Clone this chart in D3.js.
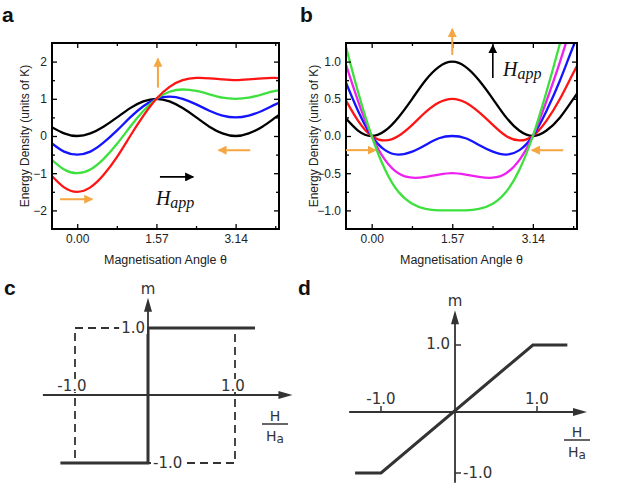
<!DOCTYPE html>
<html>
<head>
<meta charset="utf-8">
<script src="https://cdn.jsdelivr.net/npm/d3@7"></script>
<style>
  body { margin: 0; background: #fff; }
  svg { display: block; font-family: "Liberation Sans", Arial, sans-serif; }
</style>
</head>
<body>
<svg id="fig" width="633" height="491"></svg>
<script>
const theta = [-0.52, -0.26, 0, 0.26, 0.52, 0.79, 1.05, 1.31, 1.57, 1.83, 2.09, 2.36, 2.62, 2.88, 3.14, 3.40, 3.67, 3.93, 4.19];

// panel a: field along the easy axis
const a_h0  = [0.25, 0.07, 0, 0.07, 0.25, 0.5, 0.75, 0.93, 1, 0.93, 0.75, 0.5, 0.25, 0.07, 0, 0.07, 0.25, 0.5, 0.75];
const a_h05 = [-0.18, -0.42, -0.5, -0.42, -0.18, 0.15, 0.5, 0.80, 1, 1.06, 1.0, 0.85, 0.68, 0.55, 0.5, 0.55, 0.68, 0.85, 1.0];
const a_h1  = [-0.62, -0.90, -1, -0.90, -0.62, -0.21, 0.25, 0.67, 1, 1.19, 1.25, 1.21, 1.12, 1.03, 1, 1.03, 1.12, 1.21, 1.25];
const a_h15 = [-1.05, -1.38, -1.5, -1.38, -1.05, -0.56, 0, 0.54, 1, 1.32, 1.5, 1.56, 1.55, 1.52, 1.5, 1.52, 1.55, 1.56, 1.5];

// panel b: field perpendicular to the easy axis
const b_h0  = [0.25, 0.07, 0, 0.07, 0.25, 0.5, 0.75, 0.93, 1, 0.93, 0.75, 0.5, 0.25, 0.07, 0, 0.07, 0.25, 0.5, 0.75];
const b_h05 = [0.5, 0.20, 0, -0.06, 0, 0.15, 0.32, 0.45, 0.5, 0.45, 0.32, 0.15, 0, -0.06, 0, 0.20, 0.5, 0.85, 1.18];
const b_h1  = [0.75, 0.33, 0, -0.19, -0.25, -0.21, -0.12, -0.03, 0, -0.03, -0.12, -0.21, -0.25, -0.19, 0, 0.33, 0.75, 1.21, 1.62];
const b_h15 = [1.0, 0.46, 0, -0.32, -0.5, -0.56, -0.55, -0.52, -0.5, -0.52, -0.55, -0.56, -0.5, -0.32, 0, 0.46, 1.0, 1.56, 2.05];
const b_h2  = [1.25, 0.58, 0, -0.45, -0.75, -0.91, -0.98, -1.0, -1, -1.0, -0.98, -0.91, -0.75, -0.45, 0, 0.58, 1.25, 1.91, 2.48];

const xMajor = [0, 1.57, 3.14];
const xMajorLabels = ["0.00", "1.57", "3.14"];
const xMinor = [0.785, 2.355, 3.925];
const aYMajor = [-2, -1, 0, 1, 2];
const aYMinor = [-1.5, -0.5, 0.5, 1.5];
const bYMajor = [-1.0, -0.5, 0, 0.5, 1.0];
const bYMinor = [-0.75, -0.25, 0.25, 0.75];

// panels c and d: m vs H/Ha
const c_solid = [[-1.2, -1], [0, -1], [0, 1], [1.23, 1]];
const c_dashLeft = [[0, 1], [-1, 1], [-1, -1]];
const c_dashRight = [[0, -1], [1, -1], [1, 1]];
const d_line = [[-1.35, -1], [-1, -1], [0.95, 1], [1.37, 1]];

const svg = d3.select("#fig");
const defs = svg.append("defs");

const orange = "#f5a640";

function marker(id, color) {
  defs.append("marker")
    .attr("id", id)
    .attr("viewBox", "0 0 10 10")
    .attr("refX", 9).attr("refY", 5)
    .attr("markerUnits", "userSpaceOnUse")
    .attr("markerWidth", 9).attr("markerHeight", 9)
    .attr("orient", "auto")
    .append("path")
    .attr("d", "M0,0 L10,5 L0,10 z")
    .attr("fill", color);
}
marker("arrOrange", orange);
marker("arrBlack", "#000");

function energyPanel(opt) {
  const g = svg.append("g");
  const x = d3.scaleLinear().domain([-0.5, 4.0]).range([opt.left, opt.right]);
  const y = d3.scaleLinear().domain(opt.yDomain).range([opt.bottom, opt.top]);

  defs.append("clipPath").attr("id", opt.id + "clip")
    .append("rect")
    .attr("x", opt.left).attr("y", opt.top)
    .attr("width", opt.right - opt.left).attr("height", opt.bottom - opt.top);

  const color = d3.scaleOrdinal().domain(d3.range(opt.series.length)).range(opt.colors);
  const line = d3.line().x((d, i) => x(theta[i])).y(d => y(d)).curve(d3.curveNatural);

  g.append("g").attr("clip-path", `url(#${opt.id}clip)`)
    .selectAll("path")
    .data(opt.series)
    .enter()
    .append("path")
      .attr("d", d => line(d))
      .attr("fill", "none")
      .attr("stroke", (d, i) => color(i))
      .attr("stroke-width", 2.3);

  // inward ticks on all four sides
  const tickStyle = (sel) => {
    sel.select(".domain").remove();
    sel.selectAll("line").attr("stroke", "#000").attr("stroke-width", 1.3);
    sel.selectAll("text").attr("font-size", 12).attr("fill", "#222").attr("font-family", "Liberation Sans, Arial, sans-serif");
  };
  g.append("g").attr("transform", `translate(0,${opt.bottom})`)
    .call(d3.axisBottom(x).tickValues(xMajor).tickFormat((d, i) => xMajorLabels[i]).tickSize(-5).tickPadding(5))
    .call(tickStyle);
  g.append("g").attr("transform", `translate(0,${opt.bottom})`)
    .call(d3.axisBottom(x).tickValues(xMinor).tickFormat("").tickSize(-3))
    .call(tickStyle);
  g.append("g").attr("transform", `translate(0,${opt.top})`)
    .call(d3.axisTop(x).tickValues(xMajor).tickFormat("").tickSize(-5))
    .call(tickStyle);
  g.append("g").attr("transform", `translate(0,${opt.top})`)
    .call(d3.axisTop(x).tickValues(xMinor).tickFormat("").tickSize(-3))
    .call(tickStyle);
  g.append("g").attr("transform", `translate(${opt.left},0)`)
    .call(d3.axisLeft(y).tickValues(opt.yMajor).tickFormat(opt.yFormat).tickSize(-5).tickPadding(5))
    .call(tickStyle);
  g.append("g").attr("transform", `translate(${opt.left},0)`)
    .call(d3.axisLeft(y).tickValues(opt.yMinor).tickFormat("").tickSize(-3))
    .call(tickStyle);
  g.append("g").attr("transform", `translate(${opt.right},0)`)
    .call(d3.axisRight(y).tickValues(opt.yMajor).tickFormat("").tickSize(-5))
    .call(tickStyle);
  g.append("g").attr("transform", `translate(${opt.right},0)`)
    .call(d3.axisRight(y).tickValues(opt.yMinor).tickFormat("").tickSize(-3))
    .call(tickStyle);

  g.append("rect")
    .attr("x", opt.left).attr("y", opt.top)
    .attr("width", opt.right - opt.left).attr("height", opt.bottom - opt.top)
    .attr("fill", "none").attr("stroke", "#000").attr("stroke-width", 2);

  g.append("text")
    .attr("x", (opt.left + opt.right) / 2).attr("y", 264)
    .attr("text-anchor", "middle").attr("font-size", 12.5).attr("fill", "#222")
    .text("Magnetisation Angle θ");

  g.append("text")
    .attr("transform", "rotate(-90)")
    .attr("x", -(opt.top + opt.bottom) / 2).attr("y", opt.yLabelX)
    .attr("text-anchor", "middle").attr("font-size", 12).attr("fill", "#222")
    .text("Energy Density (units of K)");

  opt.arrows.forEach(a => {
    g.append("line")
      .attr("x1", x(a[0])).attr("y1", y(a[1]))
      .attr("x2", x(a[2])).attr("y2", y(a[3]))
      .attr("stroke", a[4] === "k" ? "#000" : orange)
      .attr("stroke-width", a[4] === "k" ? 1.6 : 2)
      .attr("marker-end", a[4] === "k" ? "url(#arrBlack)" : "url(#arrOrange)");
  });

  const h = g.append("text")
    .attr("x", x(opt.happ[0])).attr("y", y(opt.happ[1]))
    .attr("font-family", "Liberation Serif, Times New Roman, serif")
    .attr("font-style", "italic").attr("fill", "#111");
  h.append("tspan").attr("font-size", 20).text("H");
  h.append("tspan").attr("font-size", 16).attr("dy", 3).text("app");

  return g;
}

energyPanel({
  id: "a", left: 52, right: 279, top: 43, bottom: 229,
  yDomain: [-2.5, 2.5], yMajor: aYMajor, yMinor: aYMinor, yFormat: d3.format("d"),
  series: [a_h0, a_h05, a_h1, a_h15],
  colors: ["#000000", "#1414ff", "#3ee03e", "#ff1414"],
  yLabelX: 29,
  arrows: [[1.6, 1.3, 1.6, 2.08, "o"], [-0.34, -1.7, 0.3, -1.7, "o"], [3.43, -0.38, 2.8, -0.38, "o"], [1.64, -1.1, 2.3, -1.1, "k"]],
  happ: [1.56, -1.85]
});

energyPanel({
  id: "b", left: 346, right: 577, top: 43, bottom: 229,
  yDomain: [-1.25, 1.25], yMajor: bYMajor, yMinor: bYMinor, yFormat: d3.format(".1f"),
  series: [b_h0, b_h05, b_h1, b_h15, b_h2],
  colors: ["#000000", "#ff1414", "#1414ff", "#ee22ee", "#3ee03e"],
  yLabelX: 318,
  arrows: [[1.57, 1.09, 1.57, 1.44, "o"], [-0.5, -0.19, 0.08, -0.19, "o"], [3.73, -0.19, 3.12, -0.19, "o"], [2.36, 0.78, 2.36, 1.22, "k"]],
  happ: [2.56, 0.8]
});

// panel letters
[["a", 2, 22], ["b", 300, 22], ["c", 4, 295], ["d", 298, 295]].forEach(p => {
  svg.append("text").attr("x", p[1]).attr("y", p[2])
    .attr("font-size", 21).attr("font-weight", "bold").attr("fill", "#111")
    .text(p[0]);
});

// ---- panels c and d ----
const ink = "#333";
const loopFont = "DejaVu Sans, Verdana, sans-serif";

// label with a white box behind it, so dashed lines break around it
function label(g, px, py, txt, anchor, base) {
  const t = g.append("text")
    .attr("x", px).attr("y", py)
    .attr("text-anchor", anchor)
    .attr("dominant-baseline", base || "auto")
    .attr("font-family", loopFont).attr("font-size", 15).attr("fill", ink)
    .text(txt);
  const b = t.node().getBBox();
  g.insert("rect", () => t.node())
    .attr("x", b.x - 2).attr("y", b.y + 2)
    .attr("width", b.width + 4).attr("height", b.height - 5)
    .attr("fill", "#fff");
  return t;
}

function mAxes(g, x, y, xr, yr) {
  g.append("line")
    .attr("x1", x(xr[0])).attr("y1", y(0)).attr("x2", x(xr[1]) - 8).attr("y2", y(0))
    .attr("stroke", ink).attr("stroke-width", 1.8);
  g.append("path")
    .attr("d", `M${x(xr[1])},${y(0)} L${x(xr[1]) - 14},${y(0) - 4} L${x(xr[1]) - 14},${y(0) + 4} z`)
    .attr("fill", ink);
  g.append("line")
    .attr("x1", x(0)).attr("y1", y(yr[0])).attr("x2", x(0)).attr("y2", y(yr[1]) + 8)
    .attr("stroke", ink).attr("stroke-width", 1.8);
  g.append("path")
    .attr("d", `M${x(0)},${y(yr[1])} L${x(0) - 4},${y(yr[1]) + 14} L${x(0) + 4},${y(yr[1]) + 14} z`)
    .attr("fill", ink);
  g.append("text")
    .attr("x", x(0)).attr("y", y(yr[1]) - 4)
    .attr("text-anchor", "middle").attr("font-family", loopFont).attr("font-size", 15).attr("fill", ink)
    .text("m");
}

function fraction(g, cx, cy) {
  g.append("text").attr("x", cx).attr("y", cy - 3)
    .attr("text-anchor", "middle").attr("font-family", loopFont).attr("font-size", 14).attr("fill", ink)
    .text("H");
  g.append("line").attr("x1", cx - 13).attr("x2", cx + 13).attr("y1", cy).attr("y2", cy)
    .attr("stroke", ink).attr("stroke-width", 1.5);
  const t = g.append("text").attr("x", cx).attr("y", cy + 17)
    .attr("text-anchor", "middle").attr("font-family", loopFont).attr("font-size", 14).attr("fill", ink);
  t.append("tspan").text("H");
  t.append("tspan").attr("font-size", 12).attr("dy", 2).text("a");
}

// c: hysteresis loop along easy axis
{
  const g = svg.append("g");
  const x = d3.scaleLinear().domain([-1, 0, 1]).range([75, 148, 235]);
  const y = d3.scaleLinear().domain([-1, 0, 1]).range([463, 395, 328]);
  const line = d3.line().x(d => x(d[0])).y(d => y(d[1]));

  [c_dashLeft, c_dashRight].forEach(d => {
    g.append("path").attr("d", line(d))
      .attr("fill", "none").attr("stroke", ink).attr("stroke-width", 1.8)
      .attr("stroke-dasharray", "8,5");
  });
  mAxes(g, x, y, [-1.44, 1.66], [-1, 1.45]);
  g.append("path").attr("d", line(c_solid))
    .attr("fill", "none").attr("stroke", ink).attr("stroke-width", 3);

  label(g, x(0) - 3, y(1), "1.0", "end", "central");
  label(g, x(0) + 5, y(-1), "-1.0", "start", "central");
  label(g, x(-1) - 3, y(0) - 4, "-1.0", "middle");
  label(g, x(1) - 2, y(0) - 4, "1.0", "middle");
  fraction(g, 275, 424);
}

// d: hard-axis magnetisation
{
  const g = svg.append("g");
  const x = d3.scaleLinear().domain([-1, 0, 1]).range([381, 455, 537]);
  const y = d3.scaleLinear().domain([-1, 0, 1]).range([473, 412, 345]);
  const line = d3.line().x(d => x(d[0])).y(d => y(d[1]));

  mAxes(g, x, y, [-1.43, 1.61], [-1.16, 1.52]);
  [-1, 1].forEach(v => {
    g.append("line").attr("x1", x(v)).attr("x2", x(v)).attr("y1", y(0)).attr("y2", y(0) - 6)
      .attr("stroke", ink).attr("stroke-width", 1.5);
    g.append("line").attr("x1", x(0)).attr("x2", x(0) + 6).attr("y1", y(v)).attr("y2", y(v))
      .attr("stroke", ink).attr("stroke-width", 1.5);
  });
  g.append("path").attr("d", line(d_line))
    .attr("fill", "none").attr("stroke", ink).attr("stroke-width", 3);

  label(g, x(0) - 5, y(1) - 1, "1.0", "end", "central");
  label(g, x(0) + 8, y(-1), "-1.0", "start", "central");
  label(g, x(-1), y(0) - 8, "-1.0", "middle");
  label(g, x(1), y(0) - 8, "1.0", "middle");
  fraction(g, 577, 440);
}
</script>
</body>
</html>
